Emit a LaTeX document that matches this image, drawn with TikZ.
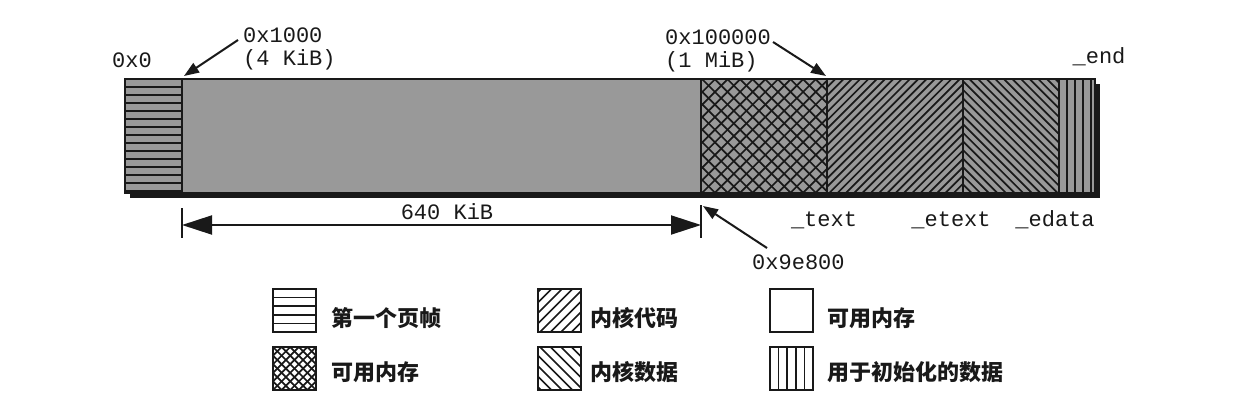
\documentclass[tikz,border=0pt]{standalone}
\usepackage{fontspec}
\setmonofont{Liberation Mono}
\newfontfamily\cjk{Noto Sans CJK SC}
\usetikzlibrary{arrows.meta}
\definecolor{barfill}{gray}{0.6}
\definecolor{ink}{gray}{0.1}
\begin{document}
\begin{tikzpicture}[x=1pt,y=-1pt,
  seg/.style={draw=ink,line width=1.3pt,fill=barfill,minimum height=114pt,inner sep=0pt,outer sep=0pt,anchor=north west},
  lgbox/.style={draw=ink,line width=1.6pt,minimum width=43pt,minimum height=43pt,inner sep=0pt,outer sep=0pt,anchor=north west},
  mono/.style={font=\ttfamily\fontsize{22}{23}\selectfont,text=ink,inner sep=0pt},
  lgtext/.style={font=\cjk\bfseries\fontsize{22}{24}\selectfont,text=ink,inner sep=0pt,anchor=west},
  ptr/.style={draw=ink,line width=2pt,-{Triangle[length=15pt,width=11pt]}},
  dim/.style={draw=ink,line width=2pt,{Triangle[length=30pt,width=19pt]}-{Triangle[length=30pt,width=19pt]}},
  tick/.style={draw=ink,line width=2pt},
  hatchline/.style={draw=ink,line width=1.7pt}
]
\fill[white] (0,0) rectangle (1256,404);
\useasboundingbox (0,0) rectangle (1256,404);

% shadow of the bar
\fill[ink] (130,84) rectangle (1100,198);

% bar segments
\node[seg,minimum width=57pt] (frame) at (125,79) {};
\node[seg,minimum width=519pt] (free1) at (182,79) {};
\node[seg,minimum width=126pt] (free2) at (701,79) {};
\node[seg,minimum width=136pt] (code) at (827,79) {};
\node[seg,minimum width=96pt] (data) at (963,79) {};
\node[seg,minimum width=36pt] (init) at (1059,79) {};

% hatching of the bar
\begin{scope}
  \clip (125,79) rectangle (182,193);
  \foreach \y in {87,95,...,191} \draw[hatchline] (125,\y) -- (182,\y);
\end{scope}
\begin{scope}
  \clip (701,79) rectangle (827,193);
  \foreach \x in {576,588.6,...,840} {
    \draw[hatchline] (\x,193) -- ++(114,-114);
    \draw[hatchline] (\x,79) -- ++(114,114);
  }
\end{scope}
\begin{scope}
  \clip (827,79) rectangle (963,193);
  \foreach \x in {713,721.3,...,970} \draw[hatchline] (\x,193) -- ++(114,-114);
\end{scope}
\begin{scope}
  \clip (963,79) rectangle (1059,193);
  \foreach \x in {849,857.6,...,1065} \draw[hatchline] (\x,79) -- ++(114,114);
\end{scope}
\foreach \x in {1067,1075,1083,1091} \draw[hatchline] (\x,79) -- (\x,193);
\draw[ink,line width=1.3pt] (125,79) rectangle (1095,193);
\foreach \x in {182,701,827,963,1059} \draw[ink,line width=1.3pt] (\x,79) -- (\x,193);

% top labels
\node[mono] (a0) at (132,60) {0x0};
\node[mono,align=left,anchor=north west] (a1000) at (243,28) {0x1000\\(4 KiB)};
\node[mono,align=left,anchor=north west] (a100000) at (665,30) {0x100000\\(1 MiB)};
\node[mono] (aend) at (1099,57) {\_end};

\draw[ptr] ([xshift=-5pt,yshift=-12pt]a1000.north west) -- ([xshift=2pt,yshift=3pt]frame.north east);
\draw[ptr] ([xshift=2pt,yshift=-12pt]a100000.north east) -- ([xshift=-1pt,yshift=3pt]code.north west);

% dimension 640 KiB
\coordinate (dl) at (182,225);
\coordinate (dr) at (701,225);
\draw[tick] ([yshift=17pt]dl) -- ([yshift=-13pt]dl);
\draw[tick] ([yshift=20pt]dr) -- ([yshift=-13pt]dr);
\draw[dim] (dl) -- (dr);
\node[mono] (k640) at (447,212) {640 KiB};

% bottom labels
\node[mono] (ltext) at (824,220) {\_text};
\node[mono] (letext) at (951,220) {\_etext};
\node[mono] (ledata) at (1055,220) {\_edata};
\node[mono,anchor=west] (a9e800) at (752,262) {0x9e800};
\draw[ptr] ([xshift=15pt,yshift=14pt]a9e800.west) -- ([xshift=2pt,yshift=-13pt]free2.south west);

% legend hatching
\begin{scope}[shift={(273,289)}]
  \clip (0,0) rectangle (43,43);
  \foreach \y in {8.6,17.2,25.8,34.4} \draw[hatchline] (0,\y) -- (43,\y);
\end{scope}
\begin{scope}[shift={(273,347)}]
  \clip (0,0) rectangle (43,43);
  \foreach \x in {-43,-34.4,...,50} {
    \draw[hatchline] (\x,43) -- ++(43,-43);
    \draw[hatchline] (\x,0) -- ++(43,43);
  }
\end{scope}
\begin{scope}[shift={(538,289)}]
  \clip (0,0) rectangle (43,43);
  \foreach \x in {-40,-29.5,...,50} \draw[hatchline] (\x,43) -- ++(43,-43);
\end{scope}
\begin{scope}[shift={(538,347)}]
  \clip (0,0) rectangle (43,43);
  \foreach \x in {-40,-29.5,...,50} \draw[hatchline] (\x,0) -- ++(43,43);
\end{scope}
\begin{scope}[shift={(770,347)}]
  \foreach \x in {8.6,17.2,25.8,34.4} \draw[hatchline] (\x,0) -- (\x,43);
\end{scope}

% legend boxes and texts
\node[lgbox] (lg1) at (273,289) {};
\node[lgtext] (lt1) at (331,318) {第一个页帧};
\node[lgbox] (lg2) at (273,347) {};
\node[lgtext] (lt2) at (331,372) {可用内存};
\node[lgbox] (lg3) at (538,289) {};
\node[lgtext] (lt3) at (590,318) {内核代码};
\node[lgbox] (lg4) at (538,347) {};
\node[lgtext] (lt4) at (590,372) {内核数据};
\node[lgbox] (lg5) at (770,289) {};
\node[lgtext] (lt5) at (827,318) {可用内存};
\node[lgbox] (lg6) at (770,347) {};
\node[lgtext] (lt6) at (827,372) {用于初始化的数据};
\end{tikzpicture}
\end{document}
